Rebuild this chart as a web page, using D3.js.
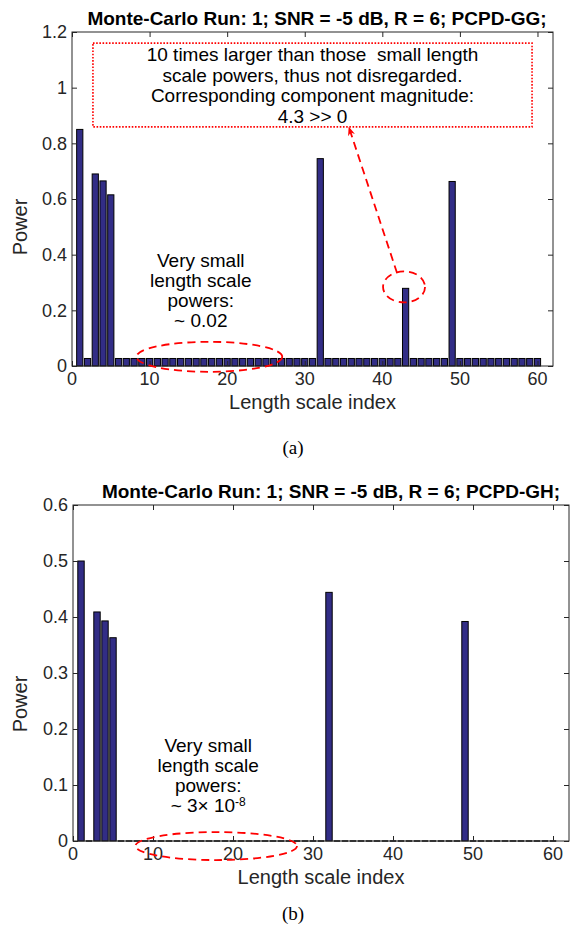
<!DOCTYPE html>
<html>
<head>
<meta charset="utf-8">
<script src="https://cdn.jsdelivr.net/npm/d3@7"></script>
<style>
  body { margin: 0; background: #fff; }
  svg { display: block; }
</style>
</head>
<body>
<script>
// data
const lengthIndex = [1,2,3,4,5,6,7,8,9,10,11,12,13,14,15,16,17,18,19,20,21,22,23,24,25,26,27,28,29,30,
  31,32,33,34,35,36,37,38,39,40,41,42,43,44,45,46,47,48,49,50,51,52,53,54,55,56,57,58,59,60];

const powerGG = [0.85,0.027,0.69,0.665,0.615,0.027,0.027,0.027,0.027,0.027,
  0.027,0.027,0.027,0.027,0.027,0.027,0.027,0.027,0.027,0.027,
  0.027,0.027,0.027,0.027,0.027,0.027,0.027,0.027,0.027,0.027,
  0.027,0.745,0.027,0.027,0.027,0.027,0.027,0.027,0.027,0.027,
  0.027,0.027,0.279,0.027,0.027,0.027,0.027,0.027,0.663,0.027,
  0.027,0.027,0.027,0.027,0.027,0.027,0.027,0.027,0.027,0.027];

const powerGH = [0.5,3e-8,0.409,0.393,0.363,3e-8,3e-8,3e-8,3e-8,3e-8,
  3e-8,3e-8,3e-8,3e-8,3e-8,3e-8,3e-8,3e-8,3e-8,3e-8,
  3e-8,3e-8,3e-8,3e-8,3e-8,3e-8,3e-8,3e-8,3e-8,3e-8,
  3e-8,0.444,3e-8,3e-8,3e-8,3e-8,3e-8,3e-8,3e-8,3e-8,
  3e-8,3e-8,3e-8,3e-8,3e-8,3e-8,3e-8,3e-8,0.392,3e-8,
  3e-8,3e-8,3e-8,3e-8,3e-8,3e-8,3e-8,3e-8,3e-8,3e-8];

const xTicks = [0,10,20,30,40,50,60];
const yTicksGG = [0,0.2,0.4,0.6,0.8,1,1.2];
const yTicksGH = [0,0.1,0.2,0.3,0.4,0.5,0.6];

const W = 571, H = 929;
const sans = "'Liberation Sans', Arial, Helvetica, sans-serif";
const barFill = "#322d86";
const axisCol = "#262626";
const red = "#ff0000";

const svg = d3.select("body").append("svg")
  .attr("width", W).attr("height", H)
  .style("font-family", sans);

svg.append("defs").append("marker")
  .attr("id", "arrowHead")
  .attr("viewBox", "0 0 10 10")
  .attr("refX", 9).attr("refY", 5)
  .attr("markerWidth", 5).attr("markerHeight", 5)
  .attr("markerUnits", "strokeWidth")
  .attr("orient", "auto")
  .append("path")
  .attr("d", "M0,1 L10,5 L0,9 L3,5 Z")
  .attr("fill", red);

function drawPanel(p) {
  const x = d3.scaleLinear().domain([0, 62]).range([p.left, p.right]);
  const y = d3.scaleLinear().domain([0, p.yMax]).range([p.bottom, p.top]);
  const g = svg.append("g");

  // bars
  g.append("g").selectAll("rect")
    .data(lengthIndex)
    .enter()
    .append("rect")
    .attr("x", (d) => x(d - 0.4))
    .attr("width", x(0.8) - x(0))
    .attr("y", (d, i) => y(p.values[i]))
    .attr("height", (d, i) => y(0) - y(p.values[i]))
    .attr("fill", barFill)
    .attr("stroke", "#000")
    .attr("stroke-width", 1);

  // box round the axes, ticks pointing inwards
  const tickLen = 5;
  const axes = g.append("g").attr("stroke", axisCol).attr("stroke-width", 1).attr("fill", "none");
  axes.append("rect")
    .attr("x", p.left).attr("y", p.top)
    .attr("width", p.right - p.left).attr("height", p.bottom - p.top);

  const xb = axes.append("g").attr("transform", `translate(0,${p.bottom})`)
    .call(d3.axisTop(x).tickValues(xTicks).tickSize(tickLen).tickFormat(""));
  const xt = axes.append("g").attr("transform", `translate(0,${p.top})`)
    .call(d3.axisBottom(x).tickValues(xTicks).tickSize(tickLen).tickFormat(""));
  const yl = axes.append("g").attr("transform", `translate(${p.left},0)`)
    .call(d3.axisRight(y).tickValues(p.yTicks).tickSize(tickLen).tickFormat(""));
  const yr = axes.append("g").attr("transform", `translate(${p.right},0)`)
    .call(d3.axisLeft(y).tickValues(p.yTicks).tickSize(tickLen).tickFormat(""));
  [xb, xt, yl, yr].forEach((a) => {
    a.select(".domain").remove();
    a.selectAll("line").attr("stroke", axisCol);
  });

  // tick labels
  g.append("g").selectAll("text")
    .data(xTicks)
    .enter()
    .append("text")
    .attr("x", (d) => x(d))
    .attr("y", p.bottom + 19)
    .attr("text-anchor", "middle")
    .attr("fill", axisCol)
    .style("font-size", "18px")
    .text((d) => d);

  g.append("g").selectAll("text")
    .data(p.yTicks)
    .enter()
    .append("text")
    .attr("x", p.left - 5)
    .attr("y", (d) => y(d))
    .attr("dy", "0.36em")
    .attr("text-anchor", "end")
    .attr("fill", axisCol)
    .style("font-size", "18px")
    .text((d) => d);

  // title and axis labels
  g.append("text")
    .attr("x", p.titleX)
    .attr("y", p.top - 7)
    .attr("text-anchor", "middle")
    .attr("fill", "#000")
    .style("font-size", "19px")
    .style("font-weight", "bold")
    .text(p.title);

  g.append("text")
    .attr("x", (p.left + p.right) / 2)
    .attr("y", p.bottom + 43)
    .attr("text-anchor", "middle")
    .attr("fill", axisCol)
    .style("font-size", "20px")
    .text("Length scale index");

  g.append("text")
    .attr("transform", `translate(27,${p.yLabelY}) rotate(-90)`)
    .attr("text-anchor", "middle")
    .attr("fill", axisCol)
    .style("font-size", "20px")
    .text("Power");

  g.append("text")
    .attr("x", 293)
    .attr("y", p.captionY)
    .attr("text-anchor", "middle")
    .attr("fill", "#000")
    .style("font-family", "'Liberation Serif', 'Times New Roman', serif")
    .style("font-size", "19px")
    .text(p.caption);

  // "very small" note, one text per line
  p.noteLines.forEach((line, i) => {
    const t = g.append("text")
      .attr("x", x(p.noteX))
      .attr("y", p.noteY + i * 20)
      .attr("text-anchor", "middle")
      .attr("fill", "#000")
      .style("font-size", "19px");
    if (typeof line === "string") {
      t.text(line);
    } else {
      t.append("tspan").text(line[0]);
      t.append("tspan").attr("dy", -6).style("font-size", "12px").text(line[1]);
    }
  });

  // dashed ellipse over the small bars
  g.append("ellipse")
    .attr("cx", x(p.ellipse.cx))
    .attr("cy", y(p.ellipse.cy))
    .attr("rx", x(p.ellipse.rx) - x(0))
    .attr("ry", p.ellipse.ry)
    .attr("fill", "none")
    .attr("stroke", red)
    .attr("stroke-width", 1.8)
    .attr("stroke-dasharray", "8,5");

  return { x, y, g };
}

const panelA = drawPanel({
  left: 72, right: 553, top: 32, bottom: 366, yMax: 1.2,
  values: powerGG, yTicks: yTicksGG,
  title: "Monte-Carlo Run: 1; SNR = -5 dB, R = 6; PCPD-GG;", titleX: 317,
  yLabelY: 227, caption: "(a)", captionY: 454,
  noteX: 16.6, noteY: 267,
  noteLines: ["Very small", "length scale", "powers:", "~ 0.02"],
  ellipse: { cx: 17.7, cy: 0.033, rx: 9.4, ry: 15 }
});

// annotation box, circled bar and arrow (panel a)
const boxLines = ["10 times larger than those  small length",
  "scale powers, thus not disregarded.",
  "Corresponding component magnitude:",
  "4.3 >> 0"];
panelA.g.append("rect")
  .attr("x", panelA.x(2.7)).attr("y", panelA.y(1.16))
  .attr("width", panelA.x(59.3) - panelA.x(2.7))
  .attr("height", panelA.y(0.859) - panelA.y(1.16))
  .attr("fill", "none")
  .attr("stroke", red)
  .attr("stroke-width", 1.6)
  .attr("stroke-dasharray", "1.6,1.6");
boxLines.forEach((line, i) => {
  panelA.g.append("text")
    .attr("x", panelA.x(31.0))
    .attr("y", 61 + i * 20.5)
    .attr("text-anchor", "middle")
    .attr("fill", "#000")
    .style("font-size", "19px")
    .style("white-space", "pre")
    .text(line);
});
panelA.g.append("ellipse")
  .attr("cx", panelA.x(42.8)).attr("cy", panelA.y(0.284))
  .attr("rx", 21).attr("ry", 15.5)
  .attr("fill", "none")
  .attr("stroke", red)
  .attr("stroke-width", 1.8)
  .attr("stroke-dasharray", "8,5");
panelA.g.append("line")
  .attr("x1", panelA.x(41.9)).attr("y1", panelA.y(0.334))
  .attr("x2", panelA.x(35.7)).attr("y2", panelA.y(0.857))
  .attr("stroke", red)
  .attr("stroke-width", 1.8)
  .attr("stroke-dasharray", "8,5")
  .attr("marker-end", "url(#arrowHead)");

drawPanel({
  left: 73, right: 569, top: 505, bottom: 841, yMax: 0.6,
  values: powerGH, yTicks: yTicksGH,
  title: "Monte-Carlo Run: 1; SNR = -5 dB, R = 6; PCPD-GH;", titleX: 331,
  yLabelY: 704, caption: "(b)", captionY: 920,
  noteX: 16.9, noteY: 752,
  noteLines: ["Very small", "length scale", "powers:", ["~ 3\u00d7 10", "-8"]],
  ellipse: { cx: 17.9, cy: -0.009, rx: 10.1, ry: 14 }
});
</script>
</body>
</html>
